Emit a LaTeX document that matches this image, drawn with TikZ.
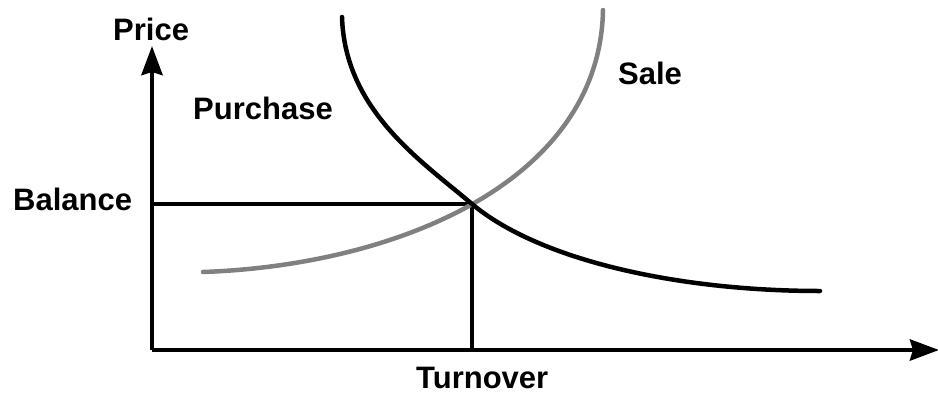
\documentclass[tikz,border=0pt]{standalone}
\usepackage{fontspec}
\setmainfont{Liberation Sans}
\usetikzlibrary{positioning, arrows.meta}

\begin{document}
\begin{tikzpicture}[
        x=1pt, y=-1pt,
        axis/.style={line width=4.5pt, -{Stealth[length=29pt, width=21pt, inset=3pt]}},
        guide/.style={line width=4.5pt},
        demand/.style={line width=4.5pt, line cap=round, black},
        supply/.style={line width=4.5pt, line cap=round, black!50},
        lbl/.style={inner sep=0pt, anchor=base west, font=\fontsize{31}{36}\selectfont\bfseries}
    ]

    \useasboundingbox (0,0) rectangle (938,394);

    \coordinate (o) at (152,350);
    \coordinate (eq) at (472,204);
    \coordinate (ytop) at (152,46);
    \coordinate (xend) at (939,350);

    % axes
    \draw[axis] (o) -- (ytop);
    \draw[axis] (o) -- (xend);

    % balance guides
    \draw[guide] (o |- eq) -- (eq);
    \draw[guide] (eq) -- (eq |- o);

    % curves
    \draw[supply] (203,272) .. controls (400,265) and (600,180) .. (603,10);
    \draw[demand] (342,17) .. controls (345,110) and (420,160) .. (eq)
        .. controls (540,261) and (680,291) .. (820,291);

    % labels
    \node[lbl] (price) at (113,40) {Price};
    \node[lbl] (purchase) at (193,119) {Purchase};
    \node[lbl] (sale) at (618,84) {Sale};
    \node[lbl] (balance) at (13,210) {Balance};
    \node[lbl] (turnover) at (416,388) {Turnover};

\end{tikzpicture}
\end{document}
